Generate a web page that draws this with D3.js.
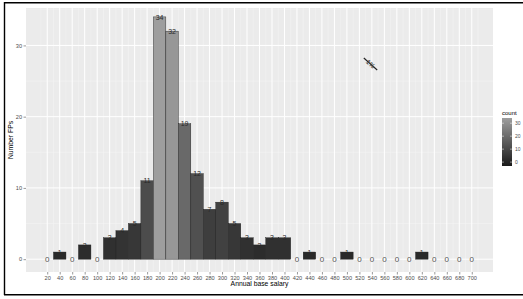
<!DOCTYPE html>
<html><head><meta charset="utf-8">
<script src="https://cdn.jsdelivr.net/npm/d3@7/dist/d3.min.js"></script>
<style>body{margin:0;background:#fff}svg{display:block;font-family:"Liberation Sans",Arial,sans-serif}</style>
</head><body><svg id="c" width="523" height="299"></svg>
<script>
const bins = [20,40,60,80,100,120,140,160,180,200,220,240,260,280,300,320,340,360,380,400,420,440,460,480,500,520,540,560,580,600,620,640,660,680,700];
const counts = [0,1,0,2,0,3,4,5,11,34,32,19,12,7,8,5,3,2,3,3,0,1,0,0,1,0,0,0,0,0,1,0,0,0,0];
const xTicks = bins;
const yTicks = [0,10,20,30];
const legendTicks = [0,10,20,30];

const svg = d3.select("#c");
const W = 523, H = 299;
const pL = 26, pR = 493, pT = 8, pB = 272;
const x = d3.scaleLinear().domain([-14, 734]).range([pL, pR]);
const y = d3.scaleLinear().domain([-1.8, 35.25]).range([pB, pT]);
const col = d3.scaleLinear().domain([0, 34]).range(["#252525", "#9e9e9e"]);

// frame
svg.append("line").attr("x1",4).attr("x2",W).attr("y1",2.7).attr("y2",2.7).attr("stroke","#000").attr("stroke-width",1.6);
svg.append("line").attr("x1",4.5).attr("x2",4.5).attr("y1",2).attr("y2",295).attr("stroke","#000").attr("stroke-width",1.4);
svg.append("line").attr("x1",4).attr("x2",W).attr("y1",294.8).attr("y2",294.8).attr("stroke","#000").attr("stroke-width",1.4);

// panel
svg.append("rect").attr("x",pL).attr("y",pT).attr("width",pR-pL).attr("height",pB-pT).attr("fill","#ebebeb");
const g = svg.append("g");
// minor grid
[5,15,25,35].forEach(v=>g.append("line").attr("x1",pL).attr("x2",pR).attr("y1",y(v)).attr("y2",y(v)).attr("stroke","#f5f5f5").attr("stroke-width",0.5));
bins.forEach(v=>g.append("line").attr("x1",x(v+10)).attr("x2",x(v+10)).attr("y1",pT).attr("y2",pB).attr("stroke","#f5f5f5").attr("stroke-width",0.5));
g.append("line").attr("x1",x(10)).attr("x2",x(10)).attr("y1",pT).attr("y2",pB).attr("stroke","#f5f5f5").attr("stroke-width",0.5);
// major grid
yTicks.forEach(v=>g.append("line").attr("x1",pL).attr("x2",pR).attr("y1",y(v)).attr("y2",y(v)).attr("stroke","#fff").attr("stroke-width",1));
xTicks.forEach(v=>g.append("line").attr("x1",x(v)).attr("x2",x(v)).attr("y1",pT).attr("y2",pB).attr("stroke","#fff").attr("stroke-width",1));

// bars
const data = bins.map((b,i)=>({b, c: counts[i]}));
g.selectAll("rect.bar").data(data.filter(d=>d.c>0)).enter().append("rect")
  .attr("x", d=>x(d.b-10)).attr("width", d=>x(d.b+10)-x(d.b-10))
  .attr("y", d=>y(d.c)).attr("height", d=>y(0)-y(d.c))
  .attr("fill", d=>col(d.c)).attr("stroke","#1a1a1a").attr("stroke-width",0.4);
// labels
g.selectAll("text.lab").data(data).enter().append("text")
  .attr("x", d=>x(d.b)).attr("y", d=>y(d.c)+2.6)
  .attr("text-anchor","middle").attr("font-size", d=>d.c===0?8:7)
  .attr("fill", d=>d.c===0?"#555":"#2a2a2a").text(d=>d.c);

// odd mark
const mk = svg.append("g").attr("transform","translate(370.5,64) rotate(42)");
mk.append("line").attr("x1",-9).attr("x2",9).attr("y1",0).attr("y2",0).attr("stroke","#222").attr("stroke-width",1.1);
mk.append("text").attr("x",0).attr("y",2.2).attr("text-anchor","middle").attr("font-size",6.5).attr("font-weight","bold").attr("fill","#444").text("1%");

// axes
const xa = svg.append("g").attr("transform",`translate(0,${pB})`).call(d3.axisBottom(x).tickValues(xTicks).tickSize(2.5).tickPadding(1.5));
const ya = svg.append("g").attr("transform",`translate(${pL},0)`).call(d3.axisLeft(y).tickValues(yTicks).tickSize(2.5).tickPadding(1.5));
[xa,ya].forEach(a=>{a.select(".domain").remove();a.selectAll("line").attr("stroke","#333").attr("stroke-width",0.5);
  a.selectAll("text").attr("fill","#4d4d4d").attr("font-size",5.6).attr("font-family","Liberation Sans, Arial, sans-serif");});

svg.append("text").attr("x",(pL+pR)/2).attr("y",286).attr("text-anchor","middle").attr("font-size",6.8).attr("fill","#000").text("Annual base salary");
svg.append("text").attr("transform",`translate(13,${(pT+pB)/2}) rotate(-90)`).attr("text-anchor","middle").attr("font-size",6.8).attr("fill","#000").text("Number FPs");

// legend
const lx = 502, lTop = 118, lBot = 166;
svg.append("text").attr("x",lx).attr("y",115).attr("font-size",6).attr("fill","#000").text("count");
const defs = svg.append("defs");
const grad = defs.append("linearGradient").attr("id","gr").attr("x1",0).attr("x2",0).attr("y1",1).attr("y2",0);
d3.range(0,1.01,0.1).forEach(t=>grad.append("stop").attr("offset",t).attr("stop-color",col(-3+t*37)));
svg.append("rect").attr("x",lx).attr("y",lTop).attr("width",10).attr("height",lBot-lTop).attr("fill","url(#gr)");
const ly = d3.scaleLinear().domain([-3,34]).range([lBot,lTop]);
legendTicks.forEach(v=>{
  svg.append("line").attr("x1",lx).attr("x2",lx+2).attr("y1",ly(v)).attr("y2",ly(v)).attr("stroke","#fff").attr("stroke-width",0.5);
  svg.append("line").attr("x1",lx+8).attr("x2",lx+10).attr("y1",ly(v)).attr("y2",ly(v)).attr("stroke","#fff").attr("stroke-width",0.5);
  svg.append("text").attr("x",lx+13).attr("y",ly(v)+2).attr("font-size",5).attr("fill","#4d4d4d").text(v);
});
</script></body></html>
